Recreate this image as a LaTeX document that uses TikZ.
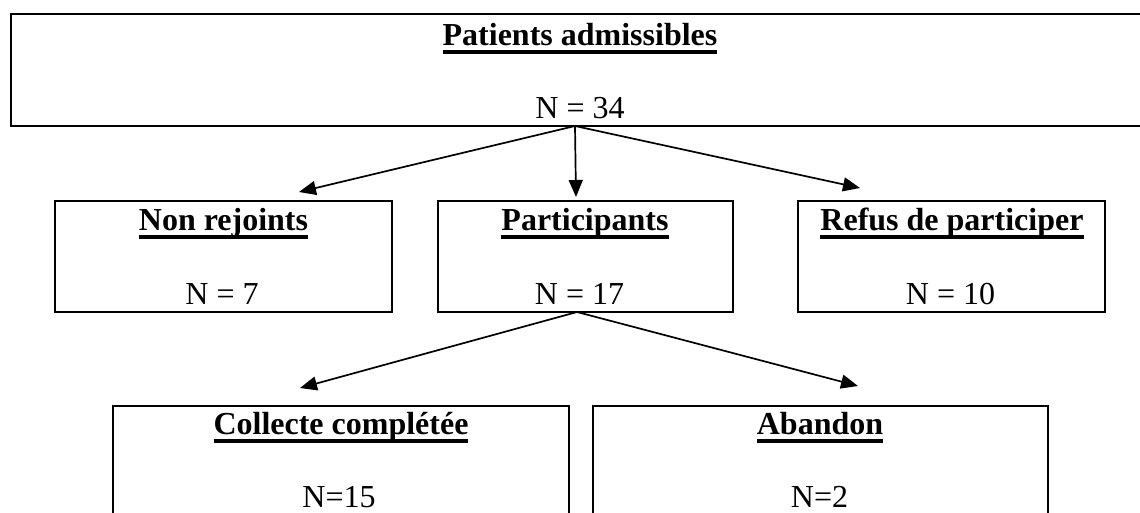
\documentclass[tikz,border=0pt]{standalone}
\usepackage{fontspec}
\setmainfont{Liberation Serif}
\usetikzlibrary{arrows.meta}
\newcommand\hdr[1]{\setbox0\hbox{\bfseries #1}\rlap{\vrule height -5pt depth 8.5pt width \wd0}\box0}
\begin{document}
\begin{tikzpicture}[x=1pt,y=-1pt,
  box/.style={draw, line width=1.9pt, inner sep=0pt},
  lab/.style={anchor=base, inner sep=0pt, font=\fontsize{32}{38}\selectfont},
  link/.style={line width=1.7pt, -{Triangle[length=17pt,width=14pt]}}]
\useasboundingbox[fill=white] (0,0) rectangle (1140,512);
% boxes
\node[box, minimum width=1149pt, minimum height=112pt] (top) at (585.5,70) {};
\node[box, minimum width=337pt, minimum height=111pt] (nonrej) at (223.5,256.5) {};
\node[box, minimum width=295pt, minimum height=111pt] (part) at (585.5,256.5) {};
\node[box, minimum width=307pt, minimum height=111pt] (refus) at (951.5,256.5) {};
\node[box, minimum width=456pt, minimum height=124pt] (coll) at (341,468) {};
\node[box, minimum width=455pt, minimum height=124pt] (aband) at (820.5,468) {};
% texts
\node[lab] (tophd) at (580,45) {\hdr{Patients admissibles}};
\node[lab] (topn) at (580,118) {N = 34};
\node[lab] (nonrejhd) at (223.5,230) {\hdr{Non rejoints}};
\node[lab] (nonrejn) at (222,304) {N = 7};
\node[lab] (parthd) at (585,230) {\hdr{Participants}};
\node[lab] (partn) at (579.5,304) {N = 17};
\node[lab] (refushd) at (952,230) {\hdr{Refus de participer}};
\node[lab] (refusn) at (950.5,304) {N = 10};
\node[lab] (collhd) at (341,434) {\hdr{Collecte complétée}};
\node[lab] (colln) at (339,507) {N=15};
\node[lab] (abandhd) at (820,434) {\hdr{Abandon}};
\node[lab] (abandn) at (819.5,507) {N=2};
% connector end points
\coordinate (s1) at (575,126);
\coordinate (t1) at (299,192);
\coordinate (t2) at (576,197);
\coordinate (t3) at (860,188);
\coordinate (s2) at (577,312);
\coordinate (t4) at (300,388);
\coordinate (t5) at (858,386);
\draw[link] (s1) -- (t1);
\draw[link] (s1) -- (t2);
\draw[link] (s1) -- (t3);
\draw[link] (s2) -- (t4);
\draw[link] (s2) -- (t5);
\end{tikzpicture}
\end{document}
